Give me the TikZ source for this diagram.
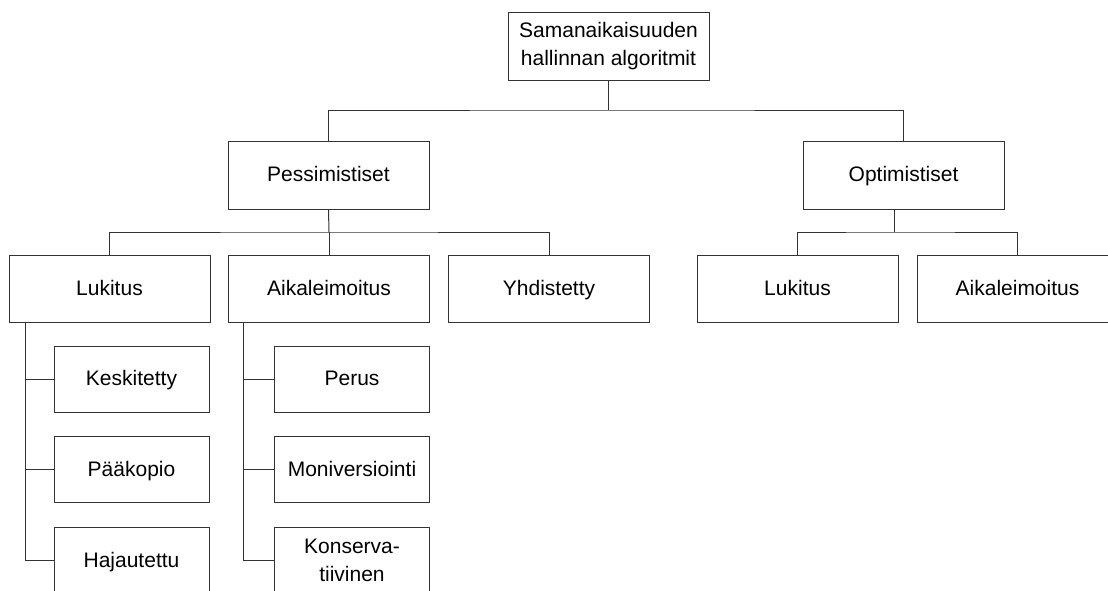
\documentclass[tikz,border=0pt]{standalone}
\usepackage{fontspec}
\setmainfont{Liberation Sans}
\begin{document}
\begin{tikzpicture}[x=1pt,y=-1pt,
  line width=1pt,
  frame/.style={draw=black!80, fill=white, rectangle, inner sep=0pt,
    minimum width=201pt, minimum height=67pt, align=center,
    font=\fontsize{21}{28}\selectfont},
  box/.style={frame, text height=17.5pt, text depth=4pt},
  box2/.style={frame},
  sub/.style={box, minimum width=155pt, minimum height=66pt},
  sub2/.style={box2, minimum width=155pt, minimum height=66pt},
  wire/.style={draw=black!80, line width=1pt}]
\useasboundingbox (0,0) rectangle (1108,590);
\clip (0,0) rectangle (1108,590);

% tree nodes
\node[box2, minimum height=68pt] (root) at (608.5,46) {Samanaikaisuuden\\hallinnan algoritmit};
\node[box, minimum height=68pt] (pess) at (328.5,175) {Pessimistiset};
\node[box, minimum height=68pt] (opt)  at (903.5,175) {Optimistiset};

\node[box] (luk1) at (109.5,288.5) {Lukitus};
\node[box] (aik1) at (329,288.5) {Aikaleimoitus};
\node[box] (yhd)  at (549,288.5) {Yhdistetty};
\node[box] (luk2) at (797.5,288.5) {Lukitus};
\node[box] (aik2) at (1017.5,288.5) {Aikaleimoitus};

\node[sub] (kes) at (131.5,379) {Keskitetty};
\node[sub] (paa) at (131.5,469.5) {Pääkopio};
\node[sub] (haj) at (131.5,560.5) {Hajautettu};

\node[sub] (per) at (352,379) {Perus};
\node[sub] (mon) at (352,469.5) {Moniversiointi};
\node[sub2] (kon) at (352,560.5) {Konserva-\\tiivinen};

% bus junctions
\coordinate (bus0) at (608.5,110);
\coordinate (bus1) at (329,232);
\coordinate (bus2) at (894,232);
\coordinate (rail1) at (25,322);
\coordinate (rail2) at (243,322);

% connectors
\draw[wire] (root.south) -- (bus0);
\draw[wire] (pess.north) |- (bus0) -| (opt.north);

\draw[wire] (pess.south) -- (bus1);
\draw[wire] (luk1.north) |- (bus1) -| (yhd.north);
\draw[wire] (bus1) -- (aik1.north);

\draw[wire] (opt.south -| bus2) -- (bus2);
\draw[wire] (luk2.north) |- (bus2) -| (aik2.north);

\draw[wire] (rail1) |- (haj.west);
\draw[wire] (rail1 |- kes.west) -- (kes.west);
\draw[wire] (rail1 |- paa.west) -- (paa.west);

\draw[wire] (rail2) |- (kon.west);
\draw[wire] (rail2 |- per.west) -- (per.west);
\draw[wire] (rail2 |- mon.west) -- (mon.west);
\end{tikzpicture}
\end{document}
